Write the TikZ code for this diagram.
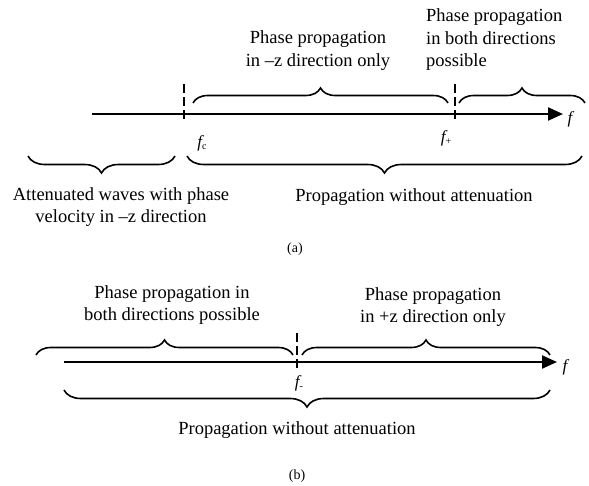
\documentclass[tikz,border=0pt]{standalone}
\usepackage{fontspec}
\setmainfont{Liberation Serif}
\usetikzlibrary{arrows.meta,decorations.pathreplacing}
\newcommand{\fsub}[1]{{\itshape f}\raisebox{-2.5pt}{\upshape\fontsize{10}{12}\selectfont #1}}
\begin{document}
\begin{tikzpicture}[x=1pt,y=-1pt,
  lbl/.style={font=\fontsize{18.5}{22.5}\selectfont, align=center, inner sep=0pt},
  axisline/.style={line width=2.2pt, -{Triangle[length=15pt,width=13pt]}},
  cutline/.style={line width=1.8pt, dash pattern=on 9pt off 4pt},
  brc/.style={line width=1.6pt, decorate, decoration={brace, amplitude=#1}},
  brc/.default=15pt,
  flab/.style={font=\fontsize{17}{20}\selectfont, inner sep=0pt},
  captext/.style={font=\fontsize{14}{16}\selectfont, inner sep=0pt}]
\useasboundingbox (0,0) rectangle (589,485);

% ---------- (a) ----------
\coordinate (a0) at (92,114);
\coordinate (a1) at (563,114);
\draw[axisline] (a0) -- (a1);
\node[flab] (fa) at (570,119) {\itshape f};

\coordinate (cutc1) at (184,84);  \coordinate (cutc2) at (184,121);
\coordinate (cutp1) at (455,84);  \coordinate (cutp2) at (455,121);
\draw[cutline] (cutc1) -- (cutc2);
\draw[cutline] (cutp1) -- (cutp2);
\node[flab] (fc) at (202,143) {\fsub{c}};
\node[flab] (fp) at (446,138) {\fsub{+}};

% braces above the axis
\coordinate (ua1) at (193,103); \coordinate (ua2) at (448,103);
\coordinate (ub1) at (459,103); \coordinate (ub2) at (585,103);
\draw[brc] (ua1) -- (ua2);
\draw[brc] (ub1) -- (ub2);
\node[lbl] (tminus) at (318,50.5) {Phase propagation\\in –z direction only};
\node[lbl, align=left, anchor=west] (tboth) at (426,40) {Phase propagation\\in both directions\\possible};

% braces below the axis
\coordinate (la1) at (175,156); \coordinate (la2) at (28,156);
\coordinate (lb1) at (582,156); \coordinate (lb2) at (187,156);
\draw[brc=17pt] (la1) -- (la2);
\draw[brc=17pt] (lb1) -- (lb2);
\node[lbl] (tatt) at (121,207) {Attenuated waves with phase\\velocity in –z direction};
\node[lbl] (tprop) at (414,197) {Propagation without attenuation};
\node[captext] (capa) at (295,249) {(a)};

% ---------- (b) ----------
\coordinate (b0) at (64,362);
\coordinate (b1) at (557,362);
\draw[axisline] (b0) -- (b1);
\node[flab] (fb) at (565,367) {\itshape f};

\coordinate (cutm1) at (297,333); \coordinate (cutm2) at (297,368);
\draw[cutline] (cutm1) -- (cutm2);
\node[flab] (fm) at (299,383) {\fsub{-}};

\coordinate (uc1) at (36,355);  \coordinate (uc2) at (293,355);
\coordinate (ud1) at (302,355); \coordinate (ud2) at (550,355);
\draw[brc] (uc1) -- (uc2);
\draw[brc] (ud1) -- (ud2);
\node[lbl] (tboth2) at (172,305) {Phase propagation in\\both directions possible};
\node[lbl] (tplus) at (433,307) {Phase propagation\\in +z direction only};

\coordinate (le1) at (550,390); \coordinate (le2) at (64,390);
\draw[brc=17pt] (le1) -- (le2);
\node[lbl] (tprop2) at (297,430) {Propagation without attenuation};
\node[captext] (capb) at (297,476) {(b)};
\end{tikzpicture}
\end{document}
